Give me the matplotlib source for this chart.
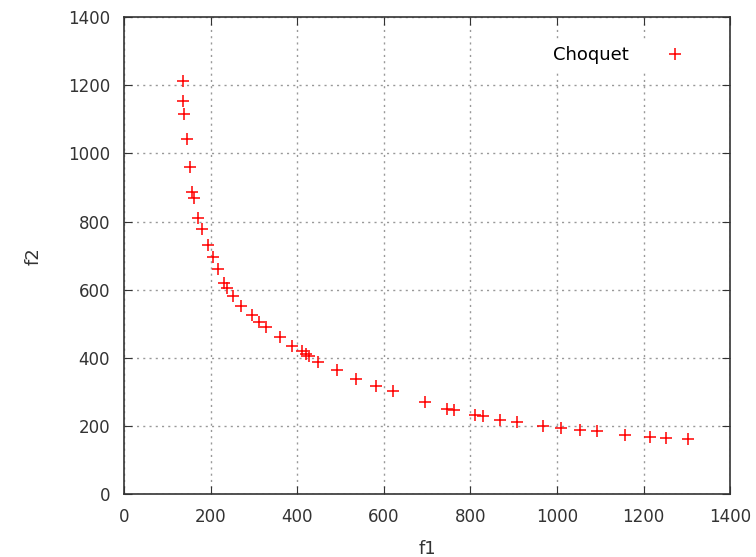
import matplotlib
matplotlib.use('Agg')
from matplotlib import pyplot as plt

# значения точек (f1, f2)
f1 = [137, 137, 139, 145, 153, 158, 162, 172, 181, 194, 206, 216, 232, 239,
      252, 270, 295, 312, 329, 360, 389, 412, 420, 427, 449, 492, 536, 583,
      622, 695, 745, 762, 810, 829, 869, 908, 967, 1008, 1053, 1092, 1158,
      1214, 1252, 1303]
f2 = [1212, 1155, 1116, 1043, 959, 888, 869, 810, 778, 730, 696, 662, 621, 605,
      582, 553, 525, 504, 490, 461, 436, 420, 410, 406, 387, 364, 339, 317,
      302, 271, 251, 247, 233, 230, 218, 212, 201, 195, 188, 184, 172,
      168, 164, 161]
xticks = [0, 200, 400, 600, 800, 1000, 1200, 1400]
yticks = [0, 200, 400, 600, 800, 1000, 1200, 1400]

fig = plt.figure(figsize=(7.56, 5.57), dpi=100)
ax = fig.add_axes([0.164, 0.113, 0.802, 0.856])
ax.plot(f1, f2, '+', color='red', markersize=9, markeredgewidth=1.1, label='Choquet')

ax.set_xlim(0, 1400)
ax.set_ylim(0, 1400)
ax.set_xticks(xticks)
ax.set_yticks(yticks)
ax.tick_params(direction='in', top=True, right=True, labelsize=12, colors='#333333',
               length=6, pad=10)
ax.grid(True, linestyle=(0, (1.5, 3)), color='#999999', linewidth=1)
for s in ax.spines.values():
    s.set_color('#333333')
    s.set_linewidth(1.2)

ax.set_xlabel('f1', fontsize=13, color='#333333', labelpad=10)
ax.set_ylabel('f2', fontsize=13, color='#333333', labelpad=18)

# легенда справа сверху, маркер после текста
leg = ax.legend(loc='upper right', bbox_to_anchor=(0.975, 0.985), markerfirst=False,
                frameon=True, fontsize=13, borderaxespad=0.8, handletextpad=1.6)
leg.get_frame().set_edgecolor('white')
leg.get_frame().set_facecolor('white')
leg.get_frame().set_alpha(1)

plt.savefig('out.png')
